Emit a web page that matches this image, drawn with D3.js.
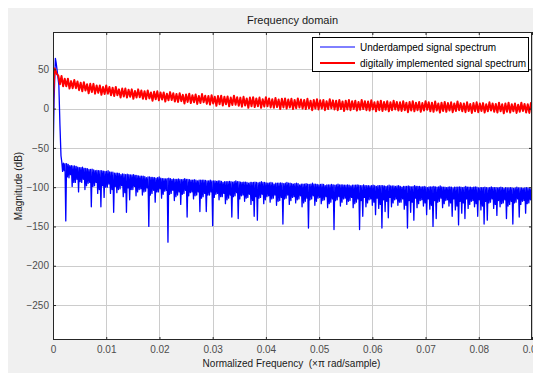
<!DOCTYPE html>
<html>
<head>
<meta charset="utf-8">
<script src="https://cdn.jsdelivr.net/npm/d3@7"></script>
<style>
  html, body { margin: 0; padding: 0; background: #ffffff; }
  svg { display: block; font-family: "Liberation Sans", Arial, sans-serif; }
</style>
</head>
<body>
<svg id="chart" width="533" height="373"></svg>
<script>
// ---- axis ticks and labels ----
const xTicks = [0, 0.01, 0.02, 0.03, 0.04, 0.05, 0.06, 0.07, 0.08, 0.09];
const yTicks = [50, 0, -50, -100, -150, -200, -250];
const xDomain = [0, 0.09];
const yDomain = [-294.5, 97.5];
const seriesNames = ["Underdamped signal spectrum", "digitally implemented signal spectrum"];
const seriesColors = ["#0000ff", "#ff0000"];

// ---- underdamped spectrum (dB) ----
// resonance peak near DC
const blueHeadF  = [0, 0.0002, 0.00045, 0.0006, 0.0008, 0.0011, 0.0013, 0.0015];
const blueHeadDb = [-70, 10, 64, 58, 47, 30, -20, -60];
// ripple, sampled every 0.00015 in the order topA, dipA, topB, dipB, repeating every 0.0006
const blueStep = 0.0006;
const blueTopAStart = 0.00165, blueDipAStart = 0.0018, blueTopBStart = 0.00195, blueDipBStart = 0.0021;
const blueTopADb = [
  -68,-70,-71,-72.5,-73,-74.5,-75,-76,-76.5,-77.5,
  -78,-78.5,-79,-79.5,-80,-80.5,-81,-82,-82.5,-83,
  -84,-84,-84.5,-85,-85.5,-86,-86.5,-87,-87.5,-88,
  -88,-88.5,-89,-89,-89,-89.5,-90,-90,-90,-90,
  -90.5,-91,-91,-91,-91,-91.5,-92,-92,-92,-92,
  -92.5,-93,-93,-93,-93,-93,-93.5,-93.5,-94,-94,
  -94,-94,-94,-94,-94.5,-94.5,-94.5,-95,-95,-95,
  -95,-95,-95.5,-95.5,-95.5,-96,-96,-96,-96,-96,
  -96.5,-96.5,-96.5,-97,-97,-97,-97,-97,-97,-97.5,
  -97.5,-97.5,-97.5,-97.5,-98,-98,-98,-98,-98,-98,
  -98,-98.5,-98.5,-98.5,-98.5,-98.5,-99,-99,-99,-99,
  -99,-99,-99,-99.5,-99.5,-99.5,-99.5,-99.5,-99.5,-99.5,
  -100,-100,-100,-100,-100,-100,-100,-100,-100,-100,
  -100,-100.5,-100.5,-100.5,-100.5,-100.5,-100.5,-100.5,-100.5,-100.5,
  -101,-101,-101,-101,-101,-101,-101,-101
];
const blueDipADb = [
  -80,-143,-88,-99,-94,-106,-94,-103,-95,-125,
  -98,-108,-125,-113,-100,-108,-132,-107,-102,-112,
  -132,-116,-103,-111,-103,-110,-105,-150,-108,-119,
  -106,-114,-105,-170,-108,-117,-110,-122,-108,-138,
  -107,-115,-110,-131,-112,-131,-110,-149,-109,-116,
  -112,-121,-114,-138,-111,-140,-111,-118,-113,-122,
  -137,-142,-113,-121,-112,-119,-114,-123,-117,-147,
  -114,-122,-113,-120,-115,-125,-118,-152,-115,-123,
  -114,-121,-116,-126,-119,-154,-116,-124,-115,-122,
  -117,-126,-119,-154,-137,-125,-116,-123,-135,-127,
  -152,-131,-139,-125,-116,-123,-119,-128,-152,-132,
  -142,-126,-117,-124,-135,-128,-150,-140,-118,-126,
  -117,-124,-137,-129,-148,-133,-140,-127,-118,-125,
  -137,-129,-147,-142,-119,-127,-136,-125,-120,-140,
  -122,-147,-119,-138,-118,-133,-120
];
const blueTopBDb = [
  -69.5,-70,-72.5,-73,-73.5,-75,-74.5,-76,-77.5,-77,
  -79,-79,-79,-80,-79,-81,-82,-82,-84,-83.5,
  -83.5,-84.5,-84,-85,-86,-86,-88,-87,-87.5,-88.5,
  -87,-89,-89.5,-88.5,-90,-90,-89.5,-90.5,-89,-90,
  -91,-90.5,-92,-91,-91,-92,-91,-92,-92.5,-92,
  -94,-93,-92.5,-93.5,-92,-93,-94,-93.5,-95,-94,
  -93.5,-94.5,-93,-94,-95,-94,-96,-95,-94.5,-95.5,
  -94,-95,-96,-95,-97,-96,-95.5,-96.5,-95,-96,
  -97,-96,-98,-97,-96.5,-97.5,-96,-97,-97.5,-97,
  -98.5,-97.5,-97,-98,-97,-98,-98.5,-97.5,-99,-98,
  -98,-99,-97.5,-98.5,-99,-98,-100,-99,-98.5,-99.5,
  -98,-99,-99.5,-99,-100.5,-99.5,-99,-100,-98.5,-100,
  -100.5,-99.5,-101,-100,-99.5,-100.5,-99,-100,-100.5,-99.5,
  -101,-100.5,-100,-101,-99.5,-100.5,-101,-100,-101.5,-101,
  -100.5,-101.5,-100,-101,-101.5,-100.5,-102
];
const blueDipBDb = [
  -79,-87,-84,-94,-90,-93,-90,-98,-94,-99,
  -94,-103,-98,-100,-96,-103,-99,-103,-98,-107,
  -101,-103,-99,-106,-102,-106,-101,-110,-104,-106,
  -102,-109,-104,-109,-104,-112,-106,-109,-104,-111,
  -106,-111,-106,-114,-108,-110,-106,-113,-108,-112,
  -108,-116,-110,-112,-107,-115,-110,-114,-109,-117,
  -112,-114,-109,-116,-111,-115,-110,-118,-113,-115,
  -110,-117,-112,-116,-111,-120,-114,-116,-111,-118,
  -113,-117,-112,-121,-115,-117,-112,-119,-114,-118,
  -113,-121,-115,-117,-113,-120,-115,-119,-114,-122,
  -116,-118,-113,-120,-115,-119,-115,-123,-117,-119,
  -114,-121,-116,-120,-115,-123,-117,-119,-114,-121,
  -116,-120,-115,-124,-118,-120,-115,-122,-117,-121,
  -116,-124,-118,-120,-115,-122,-117,-121,-116,-124,
  -118,-120,-115,-122,-117,-121,-116
];

// ---- digitally implemented spectrum (dB) ----
const redHeadF  = [0, 0.00005, 0.0003, 0.0005, 0.0007];
const redHeadDb = [-12, 17, 51, 48, 44];
// ripple maxima at f = 0.001 + 0.0006k, minima at f = 0.0013 + 0.0006k
const redStep = 0.0006;
const redTopStart = 0.001, redDipStart = 0.0013;
const redTopDb = [
  42,41.5,38,38,35,36.5,34.5,33,33.5,31,
  31.5,31.5,29.5,29.5,27.5,29.5,27.5,26.5,27.5,24.5,
  25.5,25.5,24,24.5,22.5,24.5,23,22,23,20.5,
  21.5,22,20.5,20.5,19,21,19.5,18.5,19.5,17.5,
  18,19,17,18,16,18.5,16.5,16,17,15,
  16,16.5,15,15.5,14,16.5,14.5,14,15,13,
  14,14.5,13,14,12,14.5,13,12,13.5,11.5,
  12.5,13,11.5,12.5,11,13,11.5,11,12.5,10,
  11,12,10.5,11,9.5,12,10.5,10,11,9,
  10,11,9.5,10,8.5,11,9.5,9,10.5,8,
  9,10,8.5,9.5,8,10,8.5,8,9.5,7.5,
  8.5,9.5,7.5,8.5,7,9.5,8,7.5,9,6.5,
  7.5,8.5,7,8,6.5,9,7,6.5,8,6,
  7,8,6.5,7,5.5,8,6.5,6,7.5,5.5,
  6.5,7.5,5.5,6.5,5,7.5,6,5.5,7,5
];
const redDipDb = [
  31,28.5,28.5,25.5,26,26,23.5,22,23,19.5,
  21,19,20,17.5,18.5,19,17,16,17,14,
  15.5,14,15,12.5,14,14.5,12.5,12,13,10,
  12,10.5,11.5,9,10.5,11,9,8.5,9.5,6.5,
  8.5,7,8,6,7,8,6,5,6.5,3.5,
  5.5,4,5.5,3,4.5,5,3.5,2.5,4,1,
  3,2,3,1,2.5,3,1.5,1,2,-0.5,
  1.5,0,1.5,-0.5,0.5,1.5,0,-0.5,0.5,-2,
  0,-1,0,-2,-0.5,0.5,-1,-2,-0.5,-3,
  -1,-2,-0.5,-2.5,-1.5,-0.5,-2,-2.5,-1,-3.5,
  -2,-3,-1.5,-3.5,-2,-1,-2.5,-3,-2,-4.5,
  -2.5,-3.5,-2,-4,-2.5,-1.5,-3.5,-4,-2.5,-5,
  -3,-4,-2.5,-4.5,-3,-2,-3.5,-4.5,-3,-5.5,
  -3.5,-4.5,-3,-5,-3.5,-2.5,-4,-5,-3.5,-6,
  -4,-5,-3.5,-5.5,-4,-3,-5,-5.5,-4
];

// ---- assemble point lists ----
// groups: list of [startFreq, values]; one sample from each group per step, in order
function merge(groups, step) {
  const pts = [];
  const n = d3.max(groups, g => g[1].length);
  for (let k = 0; k < n; k++) {
    groups.forEach(([start, vals]) => {
      if (k < vals.length) pts.push([start + step * k, vals[k]]);
    });
  }
  return pts;
}
const bluePts = blueHeadF.map((f, i) => [f, blueHeadDb[i]])
  .concat(merge([[blueTopAStart, blueTopADb], [blueDipAStart, blueDipADb],
                 [blueTopBStart, blueTopBDb], [blueDipBStart, blueDipBDb]], blueStep));
const redPts = redHeadF.map((f, i) => [f, redHeadDb[i]])
  .concat(merge([[redTopStart, redTopDb], [redDipStart, redDipDb]], redStep));

// ---- drawing ----
const svg = d3.select("#chart");
const W = 533, H = 373;
const plot = { left: 53, top: 32, right: 532, bottom: 340 };

// figure background
svg.append("rect").attr("x", 8).attr("y", 8).attr("width", W - 8).attr("height", H - 8)
  .attr("fill", "#f0f0f0");

const x = d3.scaleLinear().domain(xDomain).range([plot.left, plot.right]);
const y = d3.scaleLinear().domain(yDomain).range([plot.bottom, plot.top]);
const px = v => Math.round(v) + 0.5;

// axes background
svg.append("rect")
  .attr("x", plot.left).attr("y", plot.top)
  .attr("width", plot.right - plot.left).attr("height", plot.bottom - plot.top)
  .attr("fill", "#ffffff");

// grid
const grid = svg.append("g").attr("stroke", "#cccccc").attr("stroke-width", 1);
grid.selectAll("line.gx").data(xTicks.slice(1)).join("line")
  .attr("x1", d => px(x(d))).attr("x2", d => px(x(d)))
  .attr("y1", plot.top).attr("y2", plot.bottom);
grid.selectAll("line.gy").data(yTicks).join("line")
  .attr("y1", d => px(y(d))).attr("y2", d => px(y(d)))
  .attr("x1", plot.left).attr("x2", plot.right);

// data lines
svg.append("clipPath").attr("id", "plotClip").append("rect")
  .attr("x", plot.left).attr("y", plot.top)
  .attr("width", plot.right - plot.left).attr("height", plot.bottom - plot.top);

const line = d3.line().x(d => x(d[0])).y(d => y(d[1]));
const lines = svg.append("g").attr("clip-path", "url(#plotClip)");
lines.append("path").datum(bluePts)
  .attr("d", line).attr("fill", "none")
  .attr("stroke", seriesColors[0]).attr("stroke-width", 1.3)
  .attr("stroke-linejoin", "round");
lines.append("path").datum(redPts)
  .attr("d", line).attr("fill", "none")
  .attr("stroke", seriesColors[1]).attr("stroke-width", 2)
  .attr("stroke-linejoin", "round");

// axes with inward ticks
const tickColor = "#262626";
const xAxis = svg.append("g").attr("transform", `translate(0,${plot.bottom})`)
  .call(d3.axisBottom(x).tickValues(xTicks).tickSize(-3).tickPadding(6)
    .tickFormat(d => d === 0 ? "0" : d3.format(".2f")(d)));
const yAxis = svg.append("g").attr("transform", `translate(${plot.left},0)`)
  .call(d3.axisLeft(y).tickValues(yTicks).tickSize(-3).tickPadding(4));
const xTop = svg.append("g").attr("transform", `translate(0,${plot.top})`)
  .call(d3.axisTop(x).tickValues(xTicks).tickSize(-3).tickFormat(""));
const yRight = svg.append("g").attr("transform", `translate(${plot.right},0)`)
  .call(d3.axisRight(y).tickValues(yTicks).tickSize(-3).tickFormat(""));
[xAxis, yAxis, xTop, yRight].forEach(g => {
  g.select(".domain").remove();
  g.selectAll(".tick line").attr("stroke", tickColor);
  g.selectAll(".tick text").attr("fill", "#4d4d4d")
    .attr("font-size", 10).attr("font-family", "Liberation Sans, Arial, sans-serif");
});

// axes box
svg.append("rect")
  .attr("x", plot.left + 0.5).attr("y", plot.top + 0.5)
  .attr("width", plot.right - plot.left - 1).attr("height", plot.bottom - plot.top - 1)
  .attr("fill", "none").attr("stroke", tickColor).attr("stroke-width", 1);

// title and axis labels
const mid = (plot.left + plot.right) / 2;
svg.append("text").attr("x", mid).attr("y", 20).attr("dy", "0.35em")
  .attr("text-anchor", "middle").attr("font-size", 11).attr("fill", "#1a1a1a")
  .text("Frequency domain");
svg.append("text").attr("x", mid - 1).attr("y", 363).attr("dy", "0.35em")
  .attr("text-anchor", "middle").attr("font-size", 10).attr("fill", "#1a1a1a")
  .style("white-space", "pre")
  .text("Normalized Frequency  (\u00d7\u03c0 rad/sample)");
svg.append("text")
  .attr("transform", `translate(18,${(plot.top + plot.bottom) / 2}) rotate(-90)`)
  .attr("dy", "0.35em").attr("text-anchor", "middle")
  .attr("font-size", 10).attr("fill", "#1a1a1a")
  .text("Magnitude (dB)");

// legend
const lg = svg.append("g");
lg.append("rect").attr("x", 312.5).attr("y", 37.5).attr("width", 216).attr("height", 34)
  .attr("fill", "#ffffff").attr("stroke", "#000000").attr("stroke-width", 1);
seriesNames.forEach((name, i) => {
  const yy = 47 + i * 16;
  lg.append("line").attr("x1", 320).attr("x2", 355).attr("y1", yy).attr("y2", yy)
    .attr("stroke", seriesColors[i]).attr("stroke-width", i === 0 ? 1 : 2);
  lg.append("text").attr("x", 360).attr("y", yy).attr("dy", "0.35em")
    .attr("font-size", 10).attr("fill", "#000000").text(name);
});
</script>
</body>
</html>
